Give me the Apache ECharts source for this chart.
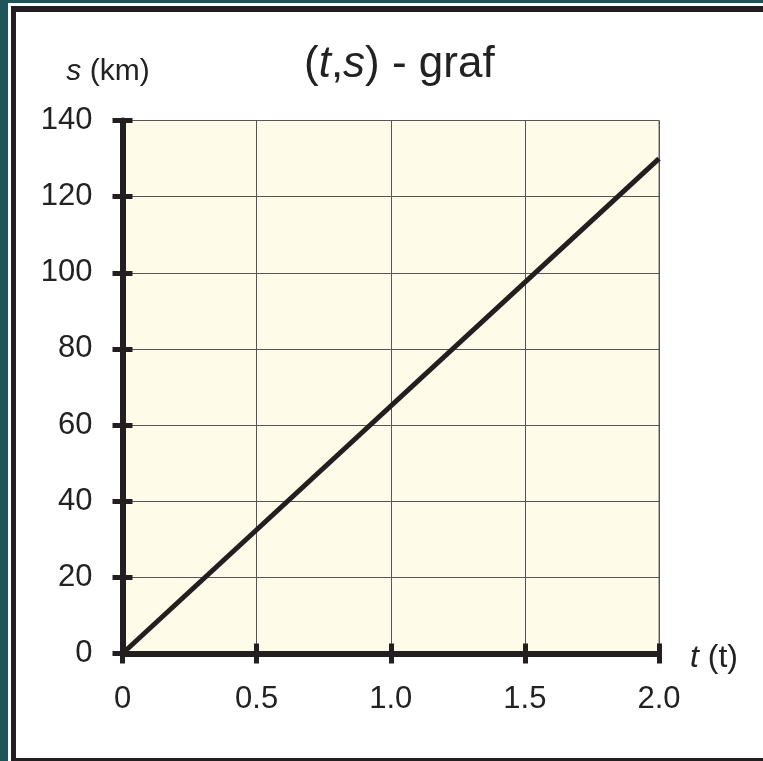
<!DOCTYPE html>
<html>
<head>
<meta charset="utf-8">
<script src="https://cdn.jsdelivr.net/npm/echarts@6/dist/echarts.min.js"></script>
<style>
  html, body { margin: 0; padding: 0; background: #1f5459; overflow: hidden; }
  #outer { position: absolute; left: 8px; top: 3px; width: 800px; height: 800px; background: #ffffff; }
  #frame { position: absolute; left: 11px; top: 6px; width: 800px; height: 746px; border: 5px solid #231f20; border-top-width: 6px; }
  #chart { position: absolute; left: 0; top: 0; width: 763px; height: 761px; }
</style>
</head>
<body>
<div id="outer"></div>
<div id="frame"></div>
<div id="chart"></div>
<script>
// Data
const tValues = [0, 2.0];          // time (t)
const sValues = [0, 130];          // distance (km)
const xTickLabels = ['0', '0.5', '1.0', '1.5', '2.0'];
const yTickLabels = ['0', '20', '40', '60', '80', '100', '120', '140'];

const ink = '#231f20';
const textColor = '#222222';
const fontFamily = 'Liberation Sans, Arial, sans-serif';
const labelSize = 31;

const chart = echarts.init(document.getElementById('chart'), null, { renderer: 'canvas' });

const points = tValues.map((t, i) => [t, sValues[i]]);

chart.setOption({
  backgroundColor: 'transparent',
  animation: false,
  title: [{
    text: '({i|t},{i|s}) - graf',
    left: 299,
    top: 38,
    textStyle: {
      fontFamily: fontFamily, fontSize: 44, fontWeight: 'normal', color: textColor,
      rich: { i: { fontStyle: 'italic', fontFamily: fontFamily, fontSize: 44, color: textColor } }
    }
  }],
  grid: {
    left: 122.5, right: 104, top: 120.5, bottom: 107.5,
    show: true,
    backgroundColor: '#fefbe8',
    borderColor: '#666666',
    borderWidth: 1
  },
  xAxis: [{
    type: 'value',
    min: 0, max: 2, interval: 0.5,
    name: '{i|t} (t)',
    nameLocation: 'end',
    nameGap: 31,
    nameTextStyle: {
      fontFamily: fontFamily, fontSize: 32, color: textColor, padding: [9, 0, 0, 0],
      rich: { i: { fontStyle: 'italic', fontFamily: fontFamily, fontSize: 32, color: textColor } }
    },
    axisLine: { show: true, lineStyle: { color: ink, width: 6 } },
    axisTick: { show: true, length: 10, lineStyle: { color: ink, width: 5 } },
    axisLabel: {
      margin: 30, fontFamily: fontFamily, fontSize: labelSize, color: textColor,
      formatter: (v, i) => xTickLabels[i]
    },
    splitLine: { show: true, lineStyle: { color: '#555555', width: 1 } }
  }, {
    type: 'value', position: 'bottom',
    min: 0, max: 2, interval: 0.5,
    axisLine: { show: false },
    axisTick: { show: true, inside: true, length: 10, lineStyle: { color: ink, width: 5 } },
    axisLabel: { show: false },
    splitLine: { show: false }
  }],
  yAxis: [{
    type: 'value',
    min: 0, max: 140, interval: 20,
    name: '{i|s} (km)',
    nameLocation: 'end',
    nameGap: 34,
    nameTextStyle: {
      fontFamily: fontFamily, fontSize: 30, color: textColor, padding: [0, 29, 0, 0],
      rich: { i: { fontStyle: 'italic', fontFamily: fontFamily, fontSize: 30, color: textColor } }
    },
    axisLine: { show: true, lineStyle: { color: ink, width: 6 } },
    axisTick: { show: true, length: 10, lineStyle: { color: ink, width: 5 } },
    axisLabel: {
      margin: 30, fontFamily: fontFamily, fontSize: labelSize, color: textColor,
      formatter: (v, i) => yTickLabels[i]
    },
    splitLine: { show: true, lineStyle: { color: '#555555', width: 1 } }
  }, {
    type: 'value', position: 'left',
    min: 0, max: 140, interval: 20,
    axisLine: { show: false },
    axisTick: { show: true, inside: true, length: 10, lineStyle: { color: ink, width: 5 } },
    axisLabel: { show: false },
    splitLine: { show: false }
  }],
  series: [{
    type: 'line',
    xAxisIndex: 0, yAxisIndex: 0,
    data: points,
    symbol: 'none',
    lineStyle: { color: ink, width: 5 },
    z: 5
  }]
});
</script>
</body>
</html>
